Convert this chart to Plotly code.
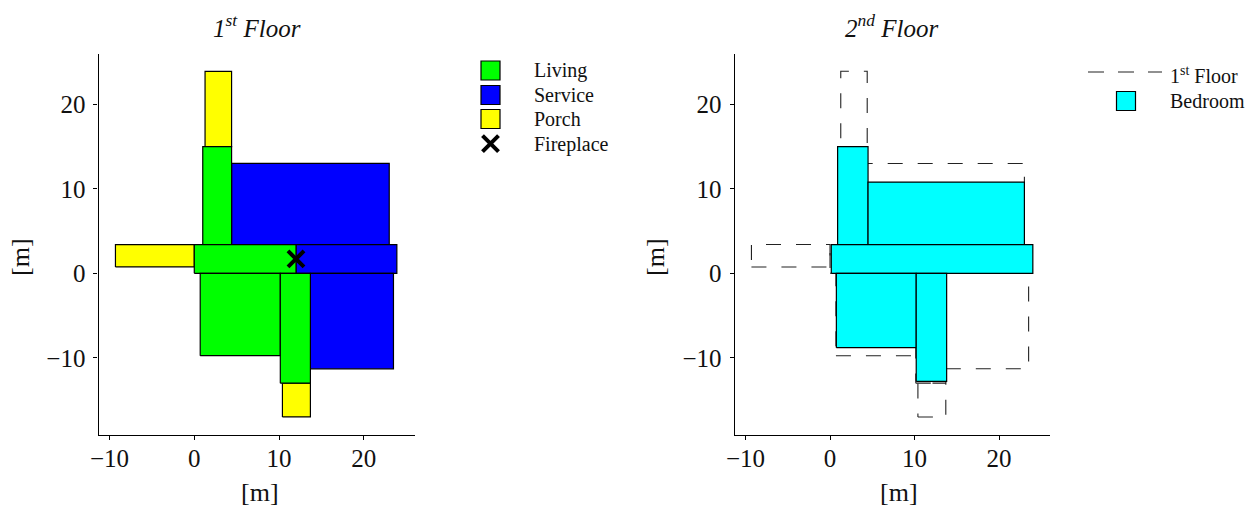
import plotly.graph_objects as go

W, H = 1248, 506

# Rectangles as [x0, x1, y0, y1] in metres
living = [[1.0, 4.4, 3.4, 15.0], [0.0, 12.0, 0.0, 3.4], [0.7, 10.15, -9.75, 0.0], [10.15, 13.7, -13.0, 0.0]]
service = [[4.4, 23.0, 3.4, 13.0], [12.0, 23.9, 0.0, 3.4], [13.7, 23.5, -11.3, 0.0]]
porch = [[1.27, 4.4, 15.0, 23.9], [-9.3, 0.0, 0.75, 3.4], [10.4, 13.7, -17.0, -13.0]]
bedroom = [[0.9, 4.5, 3.4, 15.0], [4.5, 23.0, 3.4, 10.8], [0.15, 24.0, 0.0, 3.4], [0.75, 10.2, -8.8, 0.0], [10.2, 13.8, -12.8, 0.0]]
fireplace_x = [12.0]
fireplace_y = [1.7]
tick_vals = [-10, 0, 10, 20]
legend1_labels = ["Living", "Service", "Porch", "Fireplace"]
legend2_labels = ["1<sup>st</sup> Floor", "Bedroom"]

GREEN, BLUE, YELLOW, CYAN = "#00ff00", "#0000ff", "#ffff00", "#00ffff"
SERIF = "Liberation Serif"
TXT = "#111111"


def ring(r):
    x0, x1, y0, y1 = r
    return [x0, x1, x1, x0, x0], [y0, y0, y1, y1, y0]


fig = go.Figure()

# 1st floor plan
for rects, color, name in [(porch, YELLOW, "Porch"), (service, BLUE, "Service"), (living, GREEN, "Living")]:
    for r in rects:
        xs, ys = ring(r)
        fig.add_trace(go.Scatter(x=xs, y=ys, mode="lines", fill="toself", fillcolor=color, name=name,
                                 line=dict(color="#000000", width=1.2), xaxis="x", yaxis="y", showlegend=False))
fig.add_trace(go.Scatter(x=fireplace_x, y=fireplace_y, mode="markers", name="Fireplace", showlegend=False,
                         marker=dict(symbol="x-thin", size=16, line=dict(color="#000000", width=4)),
                         xaxis="x", yaxis="y"))

# 2nd floor plan: 1st floor outline below the bedrooms
for r in living + service + porch:
    xs, ys = ring(r)
    fig.add_trace(go.Scatter(x=xs, y=ys, mode="lines", name="1st Floor", showlegend=False,
                             line=dict(color="#222222", width=1.1, dash="15px,15px"), xaxis="x2", yaxis="y2"))
for r in bedroom:
    xs, ys = ring(r)
    fig.add_trace(go.Scatter(x=xs, y=ys, mode="lines", fill="toself", fillcolor=CYAN, name="Bedroom", showlegend=False,
                             line=dict(color="#000000", width=1.2), xaxis="x2", yaxis="y2"))

# Legends, placed on a full-page overlay axis measured in pixels
sw = dict(symbol="square", size=19, line=dict(color="#000000", width=1.2))
for (py, c) in zip([70.5, 95, 119], [GREEN, BLUE, YELLOW]):
    fig.add_trace(go.Scatter(x=[490.5], y=[py], mode="markers", marker=dict(color=c, **sw), showlegend=False,
                             xaxis="x3", yaxis="y3"))
fig.add_trace(go.Scatter(x=[490.5], y=[143.7], mode="markers", showlegend=False,
                         marker=dict(symbol="x-thin", size=16, line=dict(color="#000000", width=4)),
                         xaxis="x3", yaxis="y3"))
fig.add_trace(go.Scatter(x=[1126], y=[101], mode="markers", marker=dict(color=CYAN, **sw), showlegend=False,
                         xaxis="x3", yaxis="y3"))
fig.add_trace(go.Scatter(x=[1088, 1162], y=[72, 72], mode="lines", showlegend=False,
                         line=dict(color="#222222", width=1.1, dash="16px,14px"), xaxis="x3", yaxis="y3"))

annotations = []
for label, py in zip(legend1_labels, [71, 95, 119, 144]):
    annotations.append(dict(xref="paper", yref="paper", x=532 / W, y=1 - py / H, text=label, showarrow=False,
                            xanchor="left", yanchor="middle", font=dict(family=SERIF, size=20, color=TXT)))
for label, py in zip(legend2_labels, [75, 101]):
    annotations.append(dict(xref="paper", yref="paper", x=1168 / W, y=1 - py / H, text=label, showarrow=False,
                            xanchor="left", yanchor="middle", font=dict(family=SERIF, size=20, color=TXT)))
for label, px in [("1<sup>st</sup> Floor", 256.5), ("2<sup>nd</sup> Floor", 891)]:
    annotations.append(dict(xref="paper", yref="paper", x=px / W, y=1 - 26 / H, text="<i>" + label + "</i>",
                            showarrow=False, xanchor="center", yanchor="middle",
                            font=dict(family=SERIF, size=25, color=TXT)))
for px in [259.5, 899]:
    annotations.append(dict(xref="paper", yref="paper", x=px / W, y=1 - 492 / H, text="[m]", showarrow=False,
                            xanchor="center", yanchor="middle", font=dict(family=SERIF, size=26, color=TXT)))
for px in [20, 655]:
    annotations.append(dict(xref="paper", yref="paper", x=px / W, y=1 - 257 / H, text="[m]", showarrow=False,
                            textangle=-90, xanchor="center", yanchor="middle", font=dict(family=SERIF, size=26, color=TXT)))

ax = dict(showgrid=False, zeroline=False, showline=True, linecolor="#000000", linewidth=1.2, automargin=False,
          ticks="outside", ticklen=4, tickwidth=1.1, tickcolor="#000000", tickvals=tick_vals,
          tickfont=dict(family=SERIF, size=25, color=TXT))
xs_ax = dict(ticklabelstandoff=-3, **ax)
ys_ax = dict(ticklabelstandoff=3, **ax)

fig.update_layout(
    width=W, height=H, margin=dict(l=0, r=0, t=0, b=0), paper_bgcolor="white", plot_bgcolor="rgba(0,0,0,0)",
    showlegend=False, annotations=annotations,
    xaxis=dict(domain=[98.5 / W, 415 / W], range=[-11.3, 26.04], anchor="y", **xs_ax),
    yaxis=dict(domain=[1 - 434.7 / H, 1 - 54 / H], range=[-19.1, 25.95], anchor="x", **ys_ax),
    xaxis2=dict(domain=[734.7 / W, 1050 / W], range=[-11.28, 26.03], anchor="y2", **xs_ax),
    yaxis2=dict(domain=[1 - 434.7 / H, 1 - 54 / H], range=[-19.1, 25.95], anchor="x2", **ys_ax),
    xaxis3=dict(domain=[0, 1], range=[0, W], visible=False, anchor="y3", automargin=False),
    yaxis3=dict(domain=[0, 1], range=[H, 0], visible=False, anchor="x3", automargin=False),
)

fig.write_html("out.html", config={"displayModeBar": False},
               post_script="document.documentElement.style.margin='0';document.body.style.margin='0';document.body.style.overflow='hidden';")
